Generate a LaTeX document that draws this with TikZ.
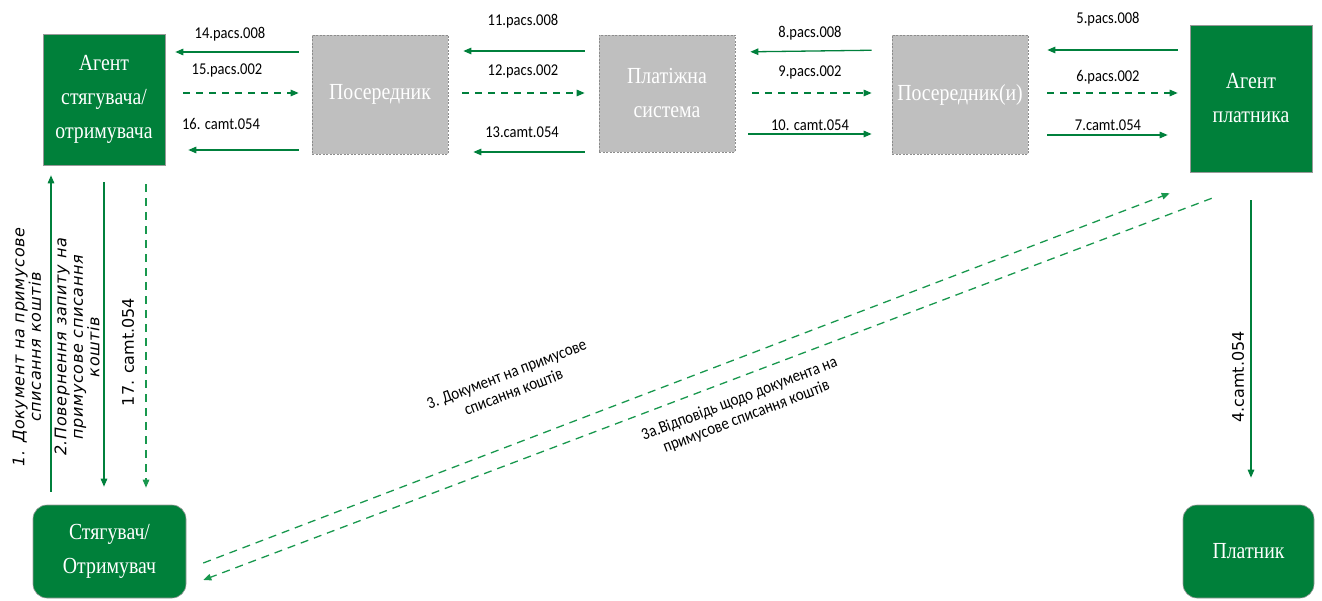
\documentclass[tikz,border=0pt]{standalone}
\usepackage{fontspec}
\setmainfont{Liberation Serif}
\newfontfamily\boxfont[FakeStretch=0.86]{Liberation Serif}
\newfontfamily\lblfont[FakeStretch=0.88]{Carlito}
\newfontfamily\vfont[LetterSpace=4]{DejaVu Sans}
\newfontfamily\vnfont{DejaVu Sans}
\usetikzlibrary{arrows.meta,calc}
\definecolor{boxgreen}{RGB}{0,128,58}
\definecolor{boxgray}{RGB}{191,191,191}
\definecolor{boxborder}{RGB}{140,140,140}
\definecolor{arrgreen}{RGB}{0,128,60}
\definecolor{dashgreen}{RGB}{25,152,78}
\tikzset{
 gbox/.style={draw=gray!80, line width=0.6pt, fill=boxgreen, text=white, align=center, inner sep=0pt,
   font=\boxfont\fontsize{23}{34}\selectfont},
 sbox/.style={draw=boxborder, dash pattern=on 2pt off 1.5pt, line width=0.7pt, fill=boxgray, text=white,
   align=center, inner sep=0pt, font=\boxfont\fontsize{23}{34}\selectfont},
 rbox/.style={gbox, rounded corners=14pt},
 arr/.style={draw=arrgreen, line width=1.3pt, -{Triangle[length=8pt,width=6.5pt]}},
 darr/.style={arr, dash pattern=on 7pt off 6pt},
 ddarr/.style={arr, draw=dashgreen, dash pattern=on 8pt off 6pt},
 lbl/.style={font=\lblfont\fontsize{16.5}{18}\selectfont, inner sep=0pt},
 dlbl/.style={font=\lblfont\fontsize{17}{19}\selectfont, inner sep=0pt, align=center, rotate=21},
 vilbl/.style={font=\vfont\itshape\fontsize{16}{16.5}\selectfont, inner sep=0pt, align=center, rotate=90},
 vlbl/.style={font=\vnfont\fontsize{16}{17}\selectfont, inner sep=0pt, rotate=90},
}
\begin{document}
\begin{tikzpicture}[x=1pt,y=-1pt]
\useasboundingbox (0,0) rectangle (1322,601);
% boxes
\node[gbox, minimum width=122, minimum height=131] (a1) at (104,99.5) {Агент\\стягувача/\\отримувача};
\node[sbox, minimum width=136, minimum height=119] (p1) at (380,94.5) {Посередник};
\node[sbox, minimum width=136, minimum height=117] (ps) at (667,93.5) {Платіжна\\система};
\node[sbox, minimum width=136, minimum height=119] (p2) at (960,94.5) {Посередник(и)};
\node[gbox, minimum width=122, minimum height=147] (a2) at (1251,98.5) {Агент\\платника};
\node[rbox, minimum width=153, minimum height=93] (st) at (109.5,551.5) {Стягувач/\\Отримувач};
\node[rbox, minimum width=131, minimum height=93] (pt) at (1248.5,551.5) {Платник};
% horizontal arrows, left pair
\draw[arr, shorten <=13pt, shorten >=10pt] (p1.west |- 0,52) -- (a1.east |- 0,52);
\draw[darr, shorten <=18pt, shorten >=13pt] (a1.east |- 0,93) -- (p1.west |- 0,93);
\draw[arr, shorten <=13pt, shorten >=23pt] (p1.west |- 0,150) -- (a1.east |- 0,150);
\node[lbl] (l14) at (230,34) {14.pacs.008};
\node[lbl] (l15) at (227,70) {15.pacs.002};
\node[lbl] (l16) at (221,124) {16. camt.054};
% second pair
\draw[arr, shorten <=14pt, shorten >=15pt] (ps.west |- 0,51) -- (p1.east |- 0,51);
\draw[darr, shorten <=14pt, shorten >=14pt] (p1.east |- 0,93) -- (ps.west |- 0,93);
\draw[arr, shorten <=14pt, shorten >=25pt] (ps.west |- 0,152) -- (p1.east |- 0,152);
\node[lbl] (l11) at (523,21) {11.pacs.008};
\node[lbl] (l12) at (523,71) {12.pacs.002};
\node[lbl] (l13) at (522,132) {13.camt.054};
% third pair
\draw[arr, shorten <=20pt, shorten >=15pt] (p2.west |- 0,50) -- (ps.east |- 0,52);
\draw[darr, shorten <=17pt, shorten >=20pt] (ps.east |- 0,93) -- (p2.west |- 0,93);
\draw[arr, shorten <=13pt, shorten >=20pt] (ps.east |- 0,134) -- (p2.west |- 0,134);
\node[lbl] (l8) at (810,33) {8.pacs.008};
\node[lbl] (l9) at (810,72) {9.pacs.002};
\node[lbl] (l10) at (810,125) {10. camt.054};
% fourth pair
\draw[arr, shorten <=12pt, shorten >=19pt] (a2.west |- 0,50) -- (p2.east |- 0,50);
\draw[darr, shorten <=19pt, shorten >=12pt] (p2.east |- 0,93) -- (a2.west |- 0,93);
\draw[arr, shorten <=19pt, shorten >=22pt] (p2.east |- 0,135) -- (a2.west |- 0,135);
\node[lbl] (l5) at (1108,19) {5.pacs.008};
\node[lbl] (l6) at (1108,77) {6.pacs.002};
\node[lbl] (l7) at (1108,125) {7.camt.054};
% vertical arrows left
\draw[arr, shorten <=13pt, shorten >=10pt] (51,0 |- st.north) -- (51,0 |- a1.south);
\draw[arr, shorten <=17pt, shorten >=18pt] (104,0 |- a1.south) -- (104,0 |- st.north);
\draw[ddarr, shorten <=19pt, shorten >=17pt] (146,0 |- a1.south) -- (146,0 |- st.north);
\node[vilbl] (l1) at (27,347) {1. Документ на примусове\\списання коштів};
\node[vilbl] (l2) at (77,347) {2.Повернення запиту на\\примусове списання\\коштів};
\node[vlbl] (l17) at (128,352) {17. camt.054};
% vertical arrow right
\draw[arr, shorten <=28pt, shorten >=27pt] (1251,0 |- a2.south) -- (1251,0 |- pt.north);
\node[vlbl] (l4) at (1238,377) {4.camt.054};
% diagonals
\draw[ddarr] ($(st.east)+(17,11.5)$) -- ($(a2.south west)+(-20,21)$);
\draw[ddarr] ($(a2.south west)+(22,26)$) -- ($(st.east)+(17,28.5)$);
\node[dlbl] (l3) at (510,383) {3. Документ на примусове\\списання коштів};
\node[dlbl] (l3a) at (743,408) {3а.Відповідь щодо документа на\\примусове списання коштів};
\end{tikzpicture}
\end{document}
